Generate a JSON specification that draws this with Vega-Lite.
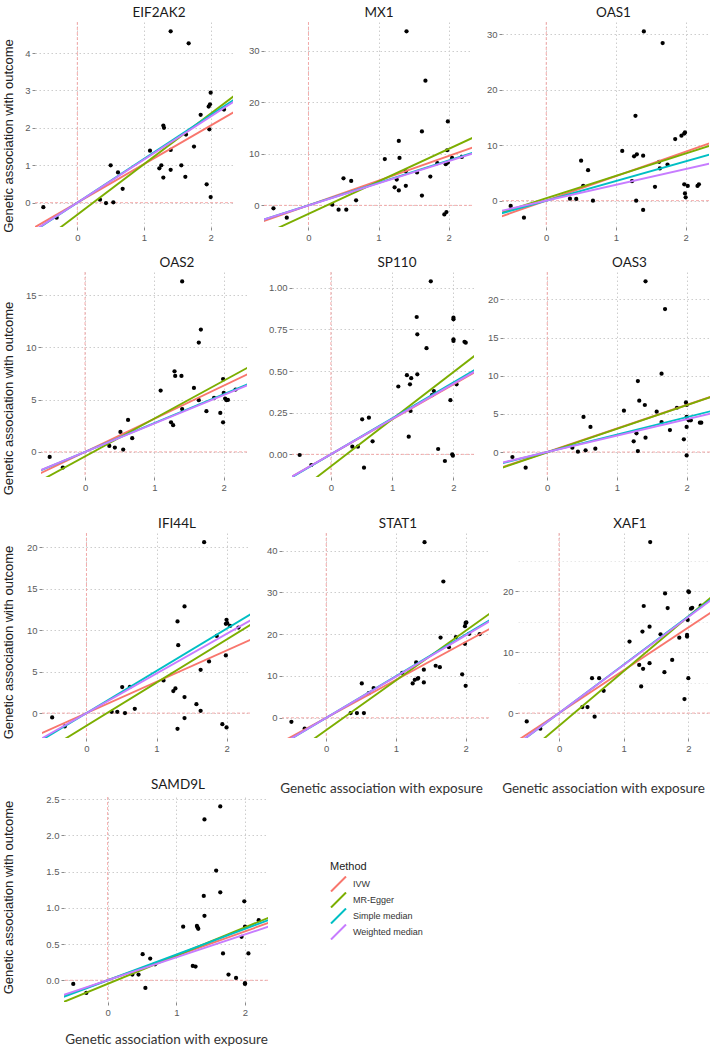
{
"$schema":"https://vega.github.io/schema/vega-lite/v6.json",
"padding":{"left":0,"top":5,"right":0,"bottom":0},
"background":"white",
"datasets":{
"pts":[
{"g":"EIF2AK2","x":-0.51,"y":-0.12},{"g":"EIF2AK2","x":-0.31,"y":-0.40},{"g":"EIF2AK2","x":0.34,"y":0.08},{"g":"EIF2AK2","x":0.43,"y":-0.01},{"g":"EIF2AK2","x":0.50,"y":1.0},{"g":"EIF2AK2","x":0.54,"y":0.01},{"g":"EIF2AK2","x":0.61,"y":0.81},{"g":"EIF2AK2","x":0.68,"y":0.37},{"g":"EIF2AK2","x":1.09,"y":1.39},{"g":"EIF2AK2","x":1.23,"y":0.92},{"g":"EIF2AK2","x":1.26,"y":1.0},{"g":"EIF2AK2","x":1.29,"y":0.67},{"g":"EIF2AK2","x":1.29,"y":2.06},{"g":"EIF2AK2","x":1.30,"y":2.0},{"g":"EIF2AK2","x":1.40,"y":1.41},{"g":"EIF2AK2","x":1.40,"y":0.88},{"g":"EIF2AK2","x":1.40,"y":4.58},{"g":"EIF2AK2","x":1.56,"y":1.0},{"g":"EIF2AK2","x":1.62,"y":0.69},{"g":"EIF2AK2","x":1.63,"y":1.82},{"g":"EIF2AK2","x":1.67,"y":4.26},{"g":"EIF2AK2","x":1.75,"y":1.50},{"g":"EIF2AK2","x":1.85,"y":2.35},{"g":"EIF2AK2","x":1.94,"y":0.49},{"g":"EIF2AK2","x":1.98,"y":1.96},{"g":"EIF2AK2","x":1.97,"y":2.57},{"g":"EIF2AK2","x":1.99,"y":2.63},{"g":"EIF2AK2","x":2.0,"y":2.94},{"g":"EIF2AK2","x":2.0,"y":0.15},{"g":"EIF2AK2","x":2.2,"y":2.49},
{"g":"MX1","x":-0.50,"y":-0.58},{"g":"MX1","x":-0.31,"y":-2.4},{"g":"MX1","x":0.34,"y":0.13},{"g":"MX1","x":0.43,"y":-0.84},{"g":"MX1","x":0.50,"y":5.26},{"g":"MX1","x":0.54,"y":-0.84},{"g":"MX1","x":0.61,"y":4.74},{"g":"MX1","x":0.68,"y":0.97},{"g":"MX1","x":1.09,"y":9.0},{"g":"MX1","x":1.23,"y":3.5},{"g":"MX1","x":1.26,"y":5.0},{"g":"MX1","x":1.29,"y":2.9},{"g":"MX1","x":1.29,"y":12.5},{"g":"MX1","x":1.30,"y":9.2},{"g":"MX1","x":1.39,"y":3.8},{"g":"MX1","x":1.39,"y":6.6},{"g":"MX1","x":1.40,"y":33.8},{"g":"MX1","x":1.55,"y":6.4},{"g":"MX1","x":1.62,"y":1.9},{"g":"MX1","x":1.62,"y":14.35},{"g":"MX1","x":1.67,"y":24.2},{"g":"MX1","x":1.74,"y":5.6},{"g":"MX1","x":1.84,"y":8.2},{"g":"MX1","x":1.94,"y":-1.75},{"g":"MX1","x":1.97,"y":-1.3},{"g":"MX1","x":1.96,"y":8.0},{"g":"MX1","x":1.98,"y":10.7},{"g":"MX1","x":1.99,"y":16.3},{"g":"MX1","x":2.05,"y":9.2},{"g":"MX1","x":2.19,"y":9.4},{"g":"MX1","x":1.99,"y":8.3},
{"g":"OAS1","x":-0.51,"y":-0.96},{"g":"OAS1","x":-0.32,"y":-3.07},{"g":"OAS1","x":0.34,"y":0.36},{"g":"OAS1","x":0.43,"y":0.30},{"g":"OAS1","x":0.50,"y":7.2},{"g":"OAS1","x":0.53,"y":2.65},{"g":"OAS1","x":0.60,"y":5.5},{"g":"OAS1","x":0.67,"y":0.0},{"g":"OAS1","x":1.09,"y":8.96},{"g":"OAS1","x":1.23,"y":3.5},{"g":"OAS1","x":1.26,"y":8.0},{"g":"OAS1","x":1.28,"y":15.3},{"g":"OAS1","x":1.29,"y":0.0},{"g":"OAS1","x":1.30,"y":8.36},{"g":"OAS1","x":1.39,"y":8.1},{"g":"OAS1","x":1.39,"y":-1.68},{"g":"OAS1","x":1.40,"y":30.5},{"g":"OAS1","x":1.56,"y":2.5},{"g":"OAS1","x":1.62,"y":7.0},{"g":"OAS1","x":1.63,"y":5.8},{"g":"OAS1","x":1.67,"y":28.4},{"g":"OAS1","x":1.74,"y":6.5},{"g":"OAS1","x":1.85,"y":11.1},{"g":"OAS1","x":1.94,"y":11.7},{"g":"OAS1","x":1.98,"y":12.1},{"g":"OAS1","x":1.99,"y":12.3},{"g":"OAS1","x":1.98,"y":2.95},{"g":"OAS1","x":1.99,"y":1.3},{"g":"OAS1","x":2.0,"y":0.6},{"g":"OAS1","x":2.03,"y":2.65},{"g":"OAS1","x":2.17,"y":2.65},{"g":"OAS1","x":2.19,"y":2.95},
{"g":"OAS2","x":-0.51,"y":-0.48},{"g":"OAS2","x":-0.32,"y":-1.5},{"g":"OAS2","x":0.35,"y":0.57},{"g":"OAS2","x":0.43,"y":0.41},{"g":"OAS2","x":0.51,"y":1.91},{"g":"OAS2","x":0.55,"y":0.22},{"g":"OAS2","x":0.62,"y":3.06},{"g":"OAS2","x":0.68,"y":1.31},{"g":"OAS2","x":1.09,"y":5.86},{"g":"OAS2","x":1.24,"y":2.83},{"g":"OAS2","x":1.27,"y":2.55},{"g":"OAS2","x":1.29,"y":7.71},{"g":"OAS2","x":1.30,"y":7.26},{"g":"OAS2","x":1.39,"y":7.26},{"g":"OAS2","x":1.40,"y":4.1},{"g":"OAS2","x":1.40,"y":16.3},{"g":"OAS2","x":1.57,"y":6.11},{"g":"OAS2","x":1.64,"y":4.94},{"g":"OAS2","x":1.64,"y":10.45},{"g":"OAS2","x":1.67,"y":11.7},{"g":"OAS2","x":1.75,"y":3.89},{"g":"OAS2","x":1.86,"y":5.16},{"g":"OAS2","x":1.95,"y":3.73},{"g":"OAS2","x":1.99,"y":2.83},{"g":"OAS2","x":1.99,"y":6.97},{"g":"OAS2","x":2.0,"y":5.64},{"g":"OAS2","x":2.02,"y":5.1},{"g":"OAS2","x":2.04,"y":4.94},{"g":"OAS2","x":2.06,"y":4.97},{"g":"OAS2","x":2.17,"y":5.96},
{"g":"SP110","x":-0.51,"y":-0.004},{"g":"SP110","x":-0.32,"y":-0.064},{"g":"SP110","x":0.35,"y":0.046},{"g":"SP110","x":0.44,"y":0.046},{"g":"SP110","x":0.51,"y":0.21},{"g":"SP110","x":0.54,"y":-0.08},{"g":"SP110","x":0.62,"y":0.22},{"g":"SP110","x":0.68,"y":0.078},{"g":"SP110","x":1.10,"y":0.407},{"g":"SP110","x":1.24,"y":0.475},{"g":"SP110","x":1.27,"y":0.106},{"g":"SP110","x":1.29,"y":0.42},{"g":"SP110","x":1.30,"y":0.26},{"g":"SP110","x":1.31,"y":0.457},{"g":"SP110","x":1.40,"y":0.824},{"g":"SP110","x":1.41,"y":0.48},{"g":"SP110","x":1.41,"y":0.72},{"g":"SP110","x":1.56,"y":0.637},{"g":"SP110","x":1.63,"y":1.038},{"g":"SP110","x":1.65,"y":0.355},{"g":"SP110","x":1.68,"y":0.38},{"g":"SP110","x":1.75,"y":0.032},{"g":"SP110","x":1.86,"y":-0.04},{"g":"SP110","x":1.95,"y":0.325},{"g":"SP110","x":1.98,"y":0.0},{"g":"SP110","x":1.99,"y":-0.008},{"g":"SP110","x":2.0,"y":0.81},{"g":"SP110","x":2.0,"y":0.82},{"g":"SP110","x":2.0,"y":0.69},{"g":"SP110","x":2.0,"y":0.68},{"g":"SP110","x":2.05,"y":0.42},{"g":"SP110","x":2.18,"y":0.675},{"g":"SP110","x":2.2,"y":0.67},
{"g":"OAS3","x":-0.50,"y":-0.65},{"g":"OAS3","x":-0.31,"y":-2.05},{"g":"OAS3","x":0.36,"y":0.57},{"g":"OAS3","x":0.44,"y":0.04},{"g":"OAS3","x":0.52,"y":4.59},{"g":"OAS3","x":0.55,"y":0.22},{"g":"OAS3","x":0.62,"y":3.28},{"g":"OAS3","x":0.69,"y":0.44},{"g":"OAS3","x":1.10,"y":5.41},{"g":"OAS3","x":1.24,"y":1.40},{"g":"OAS3","x":1.28,"y":2.45},{"g":"OAS3","x":1.30,"y":0.13},{"g":"OAS3","x":1.30,"y":9.3},{"g":"OAS3","x":1.32,"y":6.72},{"g":"OAS3","x":1.40,"y":6.16},{"g":"OAS3","x":1.41,"y":1.88},{"g":"OAS3","x":1.41,"y":22.36},{"g":"OAS3","x":1.57,"y":5.28},{"g":"OAS3","x":1.64,"y":3.93},{"g":"OAS3","x":1.64,"y":10.26},{"g":"OAS3","x":1.69,"y":18.73},{"g":"OAS3","x":1.76,"y":2.88},{"g":"OAS3","x":1.86,"y":5.8},{"g":"OAS3","x":1.96,"y":1.66},{"g":"OAS3","x":1.99,"y":6.5},{"g":"OAS3","x":2.0,"y":6.16},{"g":"OAS3","x":2.0,"y":4.6},{"g":"OAS3","x":2.0,"y":3.28},{"g":"OAS3","x":2.0,"y":-0.44},{"g":"OAS3","x":2.03,"y":4.15},{"g":"OAS3","x":2.06,"y":4.15},{"g":"OAS3","x":2.19,"y":3.84},{"g":"OAS3","x":2.21,"y":3.84},
{"g":"IFI44L","x":-0.49,"y":-0.52},{"g":"IFI44L","x":-0.31,"y":-1.6},{"g":"IFI44L","x":0.36,"y":0.16},{"g":"IFI44L","x":0.44,"y":0.16},{"g":"IFI44L","x":0.51,"y":3.13},{"g":"IFI44L","x":0.55,"y":0.0},{"g":"IFI44L","x":0.62,"y":3.17},{"g":"IFI44L","x":0.69,"y":0.52},{"g":"IFI44L","x":1.10,"y":3.94},{"g":"IFI44L","x":1.24,"y":2.65},{"g":"IFI44L","x":1.27,"y":2.97},{"g":"IFI44L","x":1.30,"y":11.04},{"g":"IFI44L","x":1.30,"y":-1.89},{"g":"IFI44L","x":1.31,"y":8.19},{"g":"IFI44L","x":1.40,"y":1.93},{"g":"IFI44L","x":1.40,"y":12.85},{"g":"IFI44L","x":1.40,"y":-0.6},{"g":"IFI44L","x":1.57,"y":1.08},{"g":"IFI44L","x":1.63,"y":5.22},{"g":"IFI44L","x":1.63,"y":0.28},{"g":"IFI44L","x":1.68,"y":20.6},{"g":"IFI44L","x":1.75,"y":6.22},{"g":"IFI44L","x":1.86,"y":9.3},{"g":"IFI44L","x":1.94,"y":-1.33},{"g":"IFI44L","x":1.99,"y":6.95},{"g":"IFI44L","x":2.0,"y":-1.73},{"g":"IFI44L","x":1.99,"y":10.76},{"g":"IFI44L","x":2.0,"y":11.24},{"g":"IFI44L","x":2.01,"y":10.84},{"g":"IFI44L","x":2.05,"y":10.5},{"g":"IFI44L","x":2.17,"y":10.3},
{"g":"STAT1","x":-0.50,"y":-0.96},{"g":"STAT1","x":-0.31,"y":-2.6},{"g":"STAT1","x":0.35,"y":1.12},{"g":"STAT1","x":0.44,"y":1.12},{"g":"STAT1","x":0.51,"y":8.22},{"g":"STAT1","x":0.54,"y":1.12},{"g":"STAT1","x":0.61,"y":5.9},{"g":"STAT1","x":0.68,"y":7.1},{"g":"STAT1","x":1.09,"y":10.77},{"g":"STAT1","x":1.24,"y":8.22},{"g":"STAT1","x":1.27,"y":9.1},{"g":"STAT1","x":1.29,"y":13.25},{"g":"STAT1","x":1.31,"y":9.34},{"g":"STAT1","x":1.32,"y":9.5},{"g":"STAT1","x":1.40,"y":11.5},{"g":"STAT1","x":1.40,"y":8.46},{"g":"STAT1","x":1.41,"y":42.0},{"g":"STAT1","x":1.57,"y":12.45},{"g":"STAT1","x":1.63,"y":12.1},{"g":"STAT1","x":1.64,"y":19.2},{"g":"STAT1","x":1.68,"y":32.6},{"g":"STAT1","x":1.76,"y":16.9},{"g":"STAT1","x":1.86,"y":19.3},{"g":"STAT1","x":1.95,"y":10.4},{"g":"STAT1","x":1.99,"y":17.7},{"g":"STAT1","x":1.99,"y":21.9},{"g":"STAT1","x":2.0,"y":22.7},{"g":"STAT1","x":2.0,"y":7.66},{"g":"STAT1","x":2.01,"y":22.8},{"g":"STAT1","x":2.05,"y":20.1},{"g":"STAT1","x":2.2,"y":20.0},
{"g":"XAF1","x":-0.50,"y":-1.37},{"g":"XAF1","x":-0.29,"y":-2.57},{"g":"XAF1","x":0.36,"y":0.98},{"g":"XAF1","x":0.44,"y":0.98},{"g":"XAF1","x":0.51,"y":5.74},{"g":"XAF1","x":0.55,"y":-0.6},{"g":"XAF1","x":0.62,"y":5.74},{"g":"XAF1","x":0.69,"y":3.66},{"g":"XAF1","x":1.09,"y":11.75},{"g":"XAF1","x":1.24,"y":7.92},{"g":"XAF1","x":1.27,"y":4.37},{"g":"XAF1","x":1.29,"y":13.39},{"g":"XAF1","x":1.30,"y":7.27},{"g":"XAF1","x":1.31,"y":17.6},{"g":"XAF1","x":1.40,"y":8.2},{"g":"XAF1","x":1.40,"y":14.2},{"g":"XAF1","x":1.41,"y":28.1},{"g":"XAF1","x":1.57,"y":12.95},{"g":"XAF1","x":1.63,"y":6.72},{"g":"XAF1","x":1.64,"y":19.67},{"g":"XAF1","x":1.68,"y":17.27},{"g":"XAF1","x":1.75,"y":8.74},{"g":"XAF1","x":1.86,"y":12.4},{"g":"XAF1","x":1.94,"y":2.3},{"g":"XAF1","x":1.98,"y":12.84},{"g":"XAF1","x":1.98,"y":12.57},{"g":"XAF1","x":1.99,"y":15.3},{"g":"XAF1","x":2.0,"y":5.74},{"g":"XAF1","x":2.0,"y":20.0},{"g":"XAF1","x":2.01,"y":19.9},{"g":"XAF1","x":2.04,"y":17.16},{"g":"XAF1","x":2.06,"y":17.3},{"g":"XAF1","x":2.19,"y":17.65},
{"g":"SAMD9L","x":-0.50,"y":-0.05},{"g":"SAMD9L","x":-0.31,"y":-0.175},{"g":"SAMD9L","x":0.36,"y":0.078},{"g":"SAMD9L","x":0.45,"y":0.078},{"g":"SAMD9L","x":0.51,"y":0.36},{"g":"SAMD9L","x":0.55,"y":-0.106},{"g":"SAMD9L","x":0.62,"y":0.30},{"g":"SAMD9L","x":0.69,"y":0.22},{"g":"SAMD9L","x":1.10,"y":0.74},{"g":"SAMD9L","x":1.24,"y":0.198},{"g":"SAMD9L","x":1.28,"y":0.19},{"g":"SAMD9L","x":1.30,"y":0.75},{"g":"SAMD9L","x":1.31,"y":0.73},{"g":"SAMD9L","x":1.32,"y":0.71},{"g":"SAMD9L","x":1.40,"y":1.165},{"g":"SAMD9L","x":1.41,"y":0.89},{"g":"SAMD9L","x":1.41,"y":2.22},{"g":"SAMD9L","x":1.58,"y":1.515},{"g":"SAMD9L","x":1.64,"y":1.215},{"g":"SAMD9L","x":1.64,"y":2.40},{"g":"SAMD9L","x":1.68,"y":0.37},{"g":"SAMD9L","x":1.76,"y":0.078},{"g":"SAMD9L","x":1.87,"y":0.032},{"g":"SAMD9L","x":1.95,"y":0.60},{"g":"SAMD9L","x":1.99,"y":1.09},{"g":"SAMD9L","x":2.0,"y":0.74},{"g":"SAMD9L","x":2.0,"y":-0.05},{"g":"SAMD9L","x":2.0,"y":-0.04},{"g":"SAMD9L","x":2.05,"y":0.37},{"g":"SAMD9L","x":2.2,"y":0.83}
],
"lines":[
{"g":"EIF2AK2","m":"IVW","x":-0.7,"y":-0.721},{"g":"EIF2AK2","m":"IVW","x":2.4,"y":2.472},{"g":"EIF2AK2","m":"MR-Egger","x":-0.7,"y":-1.265},{"g":"EIF2AK2","m":"MR-Egger","x":2.4,"y":2.92},{"g":"EIF2AK2","m":"Simple median","x":-0.7,"y":-0.819},{"g":"EIF2AK2","m":"Simple median","x":2.4,"y":2.808},{"g":"EIF2AK2","m":"Weighted median","x":-0.7,"y":-0.805},{"g":"EIF2AK2","m":"Weighted median","x":2.4,"y":2.76},
{"g":"MX1","m":"IVW","x":-0.7,"y":-3.36},{"g":"MX1","m":"IVW","x":2.4,"y":11.52},{"g":"MX1","m":"MR-Egger","x":-0.7,"y":-6.06},{"g":"MX1","m":"MR-Egger","x":2.4,"y":13.47},{"g":"MX1","m":"Simple median","x":-0.7,"y":-3.045},{"g":"MX1","m":"Simple median","x":2.4,"y":10.44},{"g":"MX1","m":"Weighted median","x":-0.7,"y":-3.01},{"g":"MX1","m":"Weighted median","x":2.4,"y":10.32},
{"g":"OAS1","m":"IVW","x":-0.7,"y":-3.087},{"g":"OAS1","m":"IVW","x":2.4,"y":10.584},{"g":"OAS1","m":"MR-Egger","x":-0.7,"y":-2.381},{"g":"OAS1","m":"MR-Egger","x":2.4,"y":10.112},{"g":"OAS1","m":"Simple median","x":-0.7,"y":-2.485},{"g":"OAS1","m":"Simple median","x":2.4,"y":8.52},{"g":"OAS1","m":"Weighted median","x":-0.7,"y":-1.995},{"g":"OAS1","m":"Weighted median","x":2.4,"y":6.84},
{"g":"OAS2","m":"IVW","x":-0.7,"y":-2.219},{"g":"OAS2","m":"IVW","x":2.4,"y":7.608},{"g":"OAS2","m":"MR-Egger","x":-0.7,"y":-2.964},{"g":"OAS2","m":"MR-Egger","x":2.4,"y":8.258},{"g":"OAS2","m":"Simple median","x":-0.7,"y":-1.932},{"g":"OAS2","m":"Simple median","x":2.4,"y":6.624},{"g":"OAS2","m":"Weighted median","x":-0.7,"y":-1.904},{"g":"OAS2","m":"Weighted median","x":2.4,"y":6.528},
{"g":"SP110","m":"IVW","x":-0.7,"y":-0.147},{"g":"SP110","m":"IVW","x":2.4,"y":0.504},{"g":"SP110","m":"MR-Egger","x":-0.7,"y":-0.270},{"g":"SP110","m":"MR-Egger","x":2.4,"y":0.607},{"g":"SP110","m":"Simple median","x":-0.7,"y":-0.151},{"g":"SP110","m":"Simple median","x":2.4,"y":0.518},{"g":"SP110","m":"Weighted median","x":-0.7,"y":-0.148},{"g":"SP110","m":"Weighted median","x":2.4,"y":0.509},
{"g":"OAS3","m":"IVW","x":-0.7,"y":-2.156},{"g":"OAS3","m":"IVW","x":2.4,"y":7.392},{"g":"OAS3","m":"MR-Egger","x":-0.7,"y":-2.22},{"g":"OAS3","m":"MR-Egger","x":2.4,"y":7.39},{"g":"OAS3","m":"Simple median","x":-0.7,"y":-1.596},{"g":"OAS3","m":"Simple median","x":2.4,"y":5.472},{"g":"OAS3","m":"Weighted median","x":-0.7,"y":-1.505},{"g":"OAS3","m":"Weighted median","x":2.4,"y":5.16},
{"g":"IFI44L","m":"IVW","x":-0.7,"y":-2.639},{"g":"IFI44L","m":"IVW","x":2.4,"y":9.048},{"g":"IFI44L","m":"MR-Egger","x":-0.7,"y":-5.153},{"g":"IFI44L","m":"MR-Egger","x":2.4,"y":10.936},{"g":"IFI44L","m":"Simple median","x":-0.7,"y":-3.556},{"g":"IFI44L","m":"Simple median","x":2.4,"y":12.192},{"g":"IFI44L","m":"Weighted median","x":-0.7,"y":-3.339},{"g":"IFI44L","m":"Weighted median","x":2.4,"y":11.448},
{"g":"STAT1","m":"IVW","x":-0.7,"y":-6.349},{"g":"STAT1","m":"IVW","x":2.4,"y":21.768},{"g":"STAT1","m":"MR-Egger","x":-0.7,"y":-11.246},{"g":"STAT1","m":"MR-Egger","x":2.4,"y":25.582},{"g":"STAT1","m":"Simple median","x":-0.7,"y":-6.965},{"g":"STAT1","m":"Simple median","x":2.4,"y":23.88},{"g":"STAT1","m":"Weighted median","x":-0.7,"y":-6.895},{"g":"STAT1","m":"Weighted median","x":2.4,"y":23.64},
{"g":"XAF1","m":"IVW","x":-0.7,"y":-4.928},{"g":"XAF1","m":"IVW","x":2.4,"y":16.896},{"g":"XAF1","m":"MR-Egger","x":-0.7,"y":-8.386},{"g":"XAF1","m":"MR-Egger","x":2.4,"y":19.452},{"g":"XAF1","m":"Simple median","x":-0.7,"y":-5.565},{"g":"XAF1","m":"Simple median","x":2.4,"y":19.08},{"g":"XAF1","m":"Weighted median","x":-0.7,"y":-5.53},{"g":"XAF1","m":"Weighted median","x":2.4,"y":18.96},
{"g":"SAMD9L","m":"IVW","x":-0.7,"y":-0.237},{"g":"SAMD9L","m":"IVW","x":2.4,"y":0.811},{"g":"SAMD9L","m":"MR-Egger","x":-0.7,"y":-0.323},{"g":"SAMD9L","m":"MR-Egger","x":2.4,"y":0.886},{"g":"SAMD9L","m":"Simple median","x":-0.7,"y":-0.249},{"g":"SAMD9L","m":"Simple median","x":2.4,"y":0.852},{"g":"SAMD9L","m":"Weighted median","x":-0.7,"y":-0.221},{"g":"SAMD9L","m":"Weighted median","x":2.4,"y":0.758}
]
},
"concat":[
{"concat":[
 {"concat":[
  {"width":1,"height":1,"data":{"values":[]},"mark":"point"},
  {"width":198,"height":205,"title":{"text":"EIF2AK2","anchor":"middle","frame":"group","dx":25,"offset":2.5},
   "layer":[
    {"data":{"values":[{}]},"mark":{"type":"rule","color":"#F4A3A3","strokeDash":[3,2],"strokeWidth":0.9},"encoding":{"x":{"datum":0,"type":"quantitative"}}},
    {"data":{"values":[{}]},"mark":{"type":"rule","color":"#F4A3A3","strokeDash":[3,2],"strokeWidth":0.9},"encoding":{"y":{"datum":0,"type":"quantitative"}}},
    {"data":{"name":"pts"},"transform":[{"filter":"datum.g==='EIF2AK2'"}],"mark":{"type":"circle","size":18,"color":"#000","opacity":1},
     "encoding":{"x":{"field":"x","type":"quantitative","title":null,"scale":{"domain":[-0.635,2.335],"nice":false,"zero":false},"axis":{"values":[0,0.5,1,1.5,2],"format":"d","labelOverlap":false,"labelFlush":false,"labelOpacity":{"condition":{"test":"datum.value % 1 !== 0","value":0},"value":1},"tickOpacity":{"condition":{"test":"datum.value % 1 !== 0","value":0},"value":1},"gridOpacity":{"condition":{"test":"datum.value % 1 !== 0","value":0.45},"value":1},"minExtent":15,"maxExtent":15}},
                 "y":{"field":"y","type":"quantitative","title":"Genetic association with outcome","scale":{"domain":[-0.65,4.83],"nice":false,"zero":false},"axis":{"values":[0,0.5,1,1.5,2,2.5,3,3.5,4,4.5],"format":"d","labelOverlap":false,"labelOpacity":{"condition":{"test":"datum.value % 1 !== 0","value":0},"value":1},"tickOpacity":{"condition":{"test":"datum.value % 1 !== 0","value":0},"value":1},"gridOpacity":{"condition":{"test":"datum.value % 1 !== 0","value":0.45},"value":1},"titleY":113.5,"minExtent":17,"maxExtent":17}}}},
    {"data":{"name":"lines"},"transform":[{"filter":"datum.g==='EIF2AK2'"}],"mark":{"type":"line","clip":true,"strokeWidth":1.9},
     "encoding":{"x":{"field":"x","type":"quantitative","title":null},"y":{"field":"y","type":"quantitative","title":"Genetic association with outcome"},"color":{"field":"m","type":"nominal","title":"Method","scale":{"domain":["IVW","MR-Egger","Simple median","Weighted median"],"range":["#F8766D","#7CAE00","#00BFC4","#C77CFF"]}}}}
   ]},
  {"width":208,"height":205,"title":{"text":"MX1","anchor":"middle","frame":"group","dx":11,"offset":2.5},
   "layer":[
    {"data":{"values":[{}]},"mark":{"type":"rule","color":"#F4A3A3","strokeDash":[3,2],"strokeWidth":0.9},"encoding":{"x":{"datum":0,"type":"quantitative"}}},
    {"data":{"values":[{}]},"mark":{"type":"rule","color":"#F4A3A3","strokeDash":[3,2],"strokeWidth":0.9},"encoding":{"y":{"datum":0,"type":"quantitative"}}},
    {"data":{"name":"pts"},"transform":[{"filter":"datum.g==='MX1'"}],"mark":{"type":"circle","size":18,"color":"#000","opacity":1},
     "encoding":{"x":{"field":"x","type":"quantitative","title":null,"scale":{"domain":[-0.635,2.335],"nice":false,"zero":false},"axis":{"values":[0,0.5,1,1.5,2],"format":"d","labelOverlap":false,"labelFlush":false,"labelOpacity":{"condition":{"test":"datum.value % 1 !== 0","value":0},"value":1},"tickOpacity":{"condition":{"test":"datum.value % 1 !== 0","value":0},"value":1},"gridOpacity":{"condition":{"test":"datum.value % 1 !== 0","value":0.45},"value":1},"minExtent":15,"maxExtent":15}},
                 "y":{"field":"y","type":"quantitative","title":null,"scale":{"domain":[-4.2,35.6],"nice":false,"zero":false},"axis":{"values":[0,5,10,15,20,25,30,35],"format":"d","labelOverlap":false,"labelOpacity":{"condition":{"test":"datum.value % 10 !== 0","value":0},"value":1},"tickOpacity":{"condition":{"test":"datum.value % 10 !== 0","value":0},"value":1},"gridOpacity":{"condition":{"test":"datum.value % 10 !== 0","value":0.45},"value":1},"minExtent":28.6,"maxExtent":28.6}}}},
    {"data":{"name":"lines"},"transform":[{"filter":"datum.g==='MX1'"}],"mark":{"type":"line","clip":true,"strokeWidth":1.9},
     "encoding":{"x":{"field":"x","type":"quantitative","title":null},"y":{"field":"y","type":"quantitative","title":null},"color":{"field":"m","type":"nominal","title":"Method","scale":{"domain":["IVW","MR-Egger","Simple median","Weighted median"],"range":["#F8766D","#7CAE00","#00BFC4","#C77CFF"]}}}}
   ]},
  {"width":207,"height":205,"title":{"text":"OAS1","anchor":"middle","frame":"group","dx":8,"offset":2.5},
   "layer":[
    {"data":{"values":[{}]},"mark":{"type":"rule","color":"#F4A3A3","strokeDash":[3,2],"strokeWidth":0.9},"encoding":{"x":{"datum":0,"type":"quantitative"}}},
    {"data":{"values":[{}]},"mark":{"type":"rule","color":"#F4A3A3","strokeDash":[3,2],"strokeWidth":0.9},"encoding":{"y":{"datum":0,"type":"quantitative"}}},
    {"data":{"name":"pts"},"transform":[{"filter":"datum.g==='OAS1'"}],"mark":{"type":"circle","size":18,"color":"#000","opacity":1},
     "encoding":{"x":{"field":"x","type":"quantitative","title":null,"scale":{"domain":[-0.635,2.335],"nice":false,"zero":false},"axis":{"values":[0,0.5,1,1.5,2],"format":"d","labelOverlap":false,"labelFlush":false,"labelOpacity":{"condition":{"test":"datum.value % 1 !== 0","value":0},"value":1},"tickOpacity":{"condition":{"test":"datum.value % 1 !== 0","value":0},"value":1},"gridOpacity":{"condition":{"test":"datum.value % 1 !== 0","value":0.45},"value":1},"minExtent":15,"maxExtent":15}},
                 "y":{"field":"y","type":"quantitative","title":null,"scale":{"domain":[-4.75,32.2],"nice":false,"zero":false},"axis":{"values":[0,5,10,15,20,25,30],"format":"d","labelOverlap":false,"labelOpacity":{"condition":{"test":"datum.value % 10 !== 0","value":0},"value":1},"tickOpacity":{"condition":{"test":"datum.value % 10 !== 0","value":0},"value":1},"gridOpacity":{"condition":{"test":"datum.value % 10 !== 0","value":0.45},"value":1},"minExtent":27.2,"maxExtent":27.2}}}},
    {"data":{"name":"lines"},"transform":[{"filter":"datum.g==='OAS1'"}],"mark":{"type":"line","clip":true,"strokeWidth":1.9},
     "encoding":{"x":{"field":"x","type":"quantitative","title":null},"y":{"field":"y","type":"quantitative","title":null},"color":{"field":"m","type":"nominal","title":"Method","scale":{"domain":["IVW","MR-Egger","Simple median","Weighted median"],"range":["#F8766D","#7CAE00","#00BFC4","#C77CFF"]}}}}
   ]}
 ],"align":"none","spacing":1},
 {"concat":[
  {"width":1,"height":1,"data":{"values":[]},"mark":"point"},
  {"width":206,"height":205,"title":{"text":"OAS2","anchor":"middle","frame":"group","dx":33,"offset":2.5},
   "layer":[
    {"data":{"values":[{}]},"mark":{"type":"rule","color":"#F4A3A3","strokeDash":[3,2],"strokeWidth":0.9},"encoding":{"x":{"datum":0,"type":"quantitative"}}},
    {"data":{"values":[{}]},"mark":{"type":"rule","color":"#F4A3A3","strokeDash":[3,2],"strokeWidth":0.9},"encoding":{"y":{"datum":0,"type":"quantitative"}}},
    {"data":{"name":"pts"},"transform":[{"filter":"datum.g==='OAS2'"}],"mark":{"type":"circle","size":18,"color":"#000","opacity":1},
     "encoding":{"x":{"field":"x","type":"quantitative","title":null,"scale":{"domain":[-0.635,2.335],"nice":false,"zero":false},"axis":{"values":[0,0.5,1,1.5,2],"format":"d","labelOverlap":false,"labelFlush":false,"labelOpacity":{"condition":{"test":"datum.value % 1 !== 0","value":0},"value":1},"tickOpacity":{"condition":{"test":"datum.value % 1 !== 0","value":0},"value":1},"gridOpacity":{"condition":{"test":"datum.value % 1 !== 0","value":0.45},"value":1},"minExtent":26,"maxExtent":26}},
                 "y":{"field":"y","type":"quantitative","title":"Genetic association with outcome","scale":{"domain":[-2.4,17.2],"nice":false,"zero":false},"axis":{"values":[0,2.5,5,7.5,10,12.5,15],"format":"d","labelOverlap":false,"labelOpacity":{"condition":{"test":"datum.value % 5 !== 0","value":0},"value":1},"tickOpacity":{"condition":{"test":"datum.value % 5 !== 0","value":0},"value":1},"gridOpacity":{"condition":{"test":"datum.value % 5 !== 0","value":0.45},"value":1},"titleY":126,"minExtent":23,"maxExtent":23}}}},
    {"data":{"name":"lines"},"transform":[{"filter":"datum.g==='OAS2'"}],"mark":{"type":"line","clip":true,"strokeWidth":1.9},
     "encoding":{"x":{"field":"x","type":"quantitative","title":null},"y":{"field":"y","type":"quantitative","title":"Genetic association with outcome"},"color":{"field":"m","type":"nominal","title":"Method","scale":{"domain":["IVW","MR-Egger","Simple median","Weighted median"],"range":["#F8766D","#7CAE00","#00BFC4","#C77CFF"]}}}}
   ]},
  {"width":182,"height":205,"title":{"text":"SP110","anchor":"middle","frame":"group","dx":14,"offset":2.5},
   "layer":[
    {"data":{"values":[{}]},"mark":{"type":"rule","color":"#F4A3A3","strokeDash":[3,2],"strokeWidth":0.9},"encoding":{"x":{"datum":0,"type":"quantitative"}}},
    {"data":{"values":[{}]},"mark":{"type":"rule","color":"#F4A3A3","strokeDash":[3,2],"strokeWidth":0.9},"encoding":{"y":{"datum":0,"type":"quantitative"}}},
    {"data":{"name":"pts"},"transform":[{"filter":"datum.g==='SP110'"}],"mark":{"type":"circle","size":18,"color":"#000","opacity":1},
     "encoding":{"x":{"field":"x","type":"quantitative","title":null,"scale":{"domain":[-0.635,2.335],"nice":false,"zero":false},"axis":{"values":[0,0.5,1,1.5,2],"format":"d","labelOverlap":false,"labelFlush":false,"labelOpacity":{"condition":{"test":"datum.value % 1 !== 0","value":0},"value":1},"tickOpacity":{"condition":{"test":"datum.value % 1 !== 0","value":0},"value":1},"gridOpacity":{"condition":{"test":"datum.value % 1 !== 0","value":0.45},"value":1},"minExtent":26,"maxExtent":26}},
                 "y":{"field":"y","type":"quantitative","title":null,"scale":{"domain":[-0.136,1.094],"nice":false,"zero":false},"axis":{"values":[0,0.125,0.25,0.375,0.5,0.625,0.75,0.875,1],"format":".2f","labelOverlap":false,"labelOpacity":{"condition":{"test":"datum.value % 0.25 !== 0","value":0},"value":1},"tickOpacity":{"condition":{"test":"datum.value % 0.25 !== 0","value":0},"value":1},"gridOpacity":{"condition":{"test":"datum.value % 0.25 !== 0","value":0.45},"value":1},"minExtent":42.8,"maxExtent":42.8}}}},
    {"data":{"name":"lines"},"transform":[{"filter":"datum.g==='SP110'"}],"mark":{"type":"line","clip":true,"strokeWidth":1.9},
     "encoding":{"x":{"field":"x","type":"quantitative","title":null},"y":{"field":"y","type":"quantitative","title":null},"color":{"field":"m","type":"nominal","title":"Method","scale":{"domain":["IVW","MR-Egger","Simple median","Weighted median"],"range":["#F8766D","#7CAE00","#00BFC4","#C77CFF"]}}}}
   ]},
  {"width":207,"height":205,"title":{"text":"OAS3","anchor":"middle","frame":"group","dx":23,"offset":2.5},
   "layer":[
    {"data":{"values":[{}]},"mark":{"type":"rule","color":"#F4A3A3","strokeDash":[3,2],"strokeWidth":0.9},"encoding":{"x":{"datum":0,"type":"quantitative"}}},
    {"data":{"values":[{}]},"mark":{"type":"rule","color":"#F4A3A3","strokeDash":[3,2],"strokeWidth":0.9},"encoding":{"y":{"datum":0,"type":"quantitative"}}},
    {"data":{"name":"pts"},"transform":[{"filter":"datum.g==='OAS3'"}],"mark":{"type":"circle","size":18,"color":"#000","opacity":1},
     "encoding":{"x":{"field":"x","type":"quantitative","title":null,"scale":{"domain":[-0.635,2.335],"nice":false,"zero":false},"axis":{"values":[0,0.5,1,1.5,2],"format":"d","labelOverlap":false,"labelFlush":false,"labelOpacity":{"condition":{"test":"datum.value % 1 !== 0","value":0},"value":1},"tickOpacity":{"condition":{"test":"datum.value % 1 !== 0","value":0},"value":1},"gridOpacity":{"condition":{"test":"datum.value % 1 !== 0","value":0.45},"value":1},"minExtent":26,"maxExtent":26}},
                 "y":{"field":"y","type":"quantitative","title":null,"scale":{"domain":[-3.27,23.58],"nice":false,"zero":false},"axis":{"values":[0,2.5,5,7.5,10,12.5,15,17.5,20,22.5],"format":"d","labelOverlap":false,"labelOpacity":{"condition":{"test":"datum.value % 5 !== 0","value":0},"value":1},"tickOpacity":{"condition":{"test":"datum.value % 5 !== 0","value":0},"value":1},"gridOpacity":{"condition":{"test":"datum.value % 5 !== 0","value":0.45},"value":1},"minExtent":26.6,"maxExtent":26.6}}}},
    {"data":{"name":"lines"},"transform":[{"filter":"datum.g==='OAS3'"}],"mark":{"type":"line","clip":true,"strokeWidth":1.9},
     "encoding":{"x":{"field":"x","type":"quantitative","title":null},"y":{"field":"y","type":"quantitative","title":null},"color":{"field":"m","type":"nominal","title":"Method","scale":{"domain":["IVW","MR-Egger","Simple median","Weighted median"],"range":["#F8766D","#7CAE00","#00BFC4","#C77CFF"]}}}}
   ]}
 ],"align":"none","spacing":1},
 {"concat":[
  {"width":1,"height":1,"data":{"values":[]},"mark":"point"},
  {"width":208,"height":205,"title":{"text":"IFI44L","anchor":"middle","frame":"group","dx":31,"offset":2.5},
   "layer":[
    {"data":{"values":[{}]},"mark":{"type":"rule","color":"#F4A3A3","strokeDash":[3,2],"strokeWidth":0.9},"encoding":{"x":{"datum":0,"type":"quantitative"}}},
    {"data":{"values":[{}]},"mark":{"type":"rule","color":"#F4A3A3","strokeDash":[3,2],"strokeWidth":0.9},"encoding":{"y":{"datum":0,"type":"quantitative"}}},
    {"data":{"name":"pts"},"transform":[{"filter":"datum.g==='IFI44L'"}],"mark":{"type":"circle","size":18,"color":"#000","opacity":1},
     "encoding":{"x":{"field":"x","type":"quantitative","title":null,"scale":{"domain":[-0.635,2.335],"nice":false,"zero":false},"axis":{"values":[0,0.5,1,1.5,2],"format":"d","labelOverlap":false,"labelFlush":false,"labelOpacity":{"condition":{"test":"datum.value % 1 !== 0","value":0},"value":1},"tickOpacity":{"condition":{"test":"datum.value % 1 !== 0","value":0},"value":1},"gridOpacity":{"condition":{"test":"datum.value % 1 !== 0","value":0.45},"value":1},"minExtent":15,"maxExtent":15}},
                 "y":{"field":"y","type":"quantitative","title":"Genetic association with outcome","scale":{"domain":[-3.0,21.7],"nice":false,"zero":false},"axis":{"values":[0,2.5,5,7.5,10,12.5,15,17.5,20],"format":"d","labelOverlap":false,"labelOpacity":{"condition":{"test":"datum.value % 5 !== 0","value":0},"value":1},"tickOpacity":{"condition":{"test":"datum.value % 5 !== 0","value":0},"value":1},"gridOpacity":{"condition":{"test":"datum.value % 5 !== 0","value":0.45},"value":1},"titleY":109,"minExtent":24,"maxExtent":24}}}},
    {"data":{"name":"lines"},"transform":[{"filter":"datum.g==='IFI44L'"}],"mark":{"type":"line","clip":true,"strokeWidth":1.9},
     "encoding":{"x":{"field":"x","type":"quantitative","title":null},"y":{"field":"y","type":"quantitative","title":"Genetic association with outcome"},"color":{"field":"m","type":"nominal","title":"Method","scale":{"domain":["IVW","MR-Egger","Simple median","Weighted median"],"range":["#F8766D","#7CAE00","#00BFC4","#C77CFF"]}}}}
   ]},
  {"width":207,"height":205,"title":{"text":"STAT1","anchor":"middle","frame":"group","dx":12.5,"offset":2.5},
   "layer":[
    {"data":{"values":[{}]},"mark":{"type":"rule","color":"#F4A3A3","strokeDash":[3,2],"strokeWidth":0.9},"encoding":{"x":{"datum":0,"type":"quantitative"}}},
    {"data":{"values":[{}]},"mark":{"type":"rule","color":"#F4A3A3","strokeDash":[3,2],"strokeWidth":0.9},"encoding":{"y":{"datum":0,"type":"quantitative"}}},
    {"data":{"name":"pts"},"transform":[{"filter":"datum.g==='STAT1'"}],"mark":{"type":"circle","size":18,"color":"#000","opacity":1},
     "encoding":{"x":{"field":"x","type":"quantitative","title":"Genetic association with exposure","scale":{"domain":[-0.635,2.335],"nice":false,"zero":false},"axis":{"values":[0,0.5,1,1.5,2],"format":"d","labelOverlap":false,"labelFlush":false,"labelOpacity":{"condition":{"test":"datum.value % 1 !== 0","value":0},"value":1},"tickOpacity":{"condition":{"test":"datum.value % 1 !== 0","value":0},"value":1},"gridOpacity":{"condition":{"test":"datum.value % 1 !== 0","value":0.45},"value":1},"minExtent":15,"maxExtent":15,"titlePadding":28,"titleX":99}},
                 "y":{"field":"y","type":"quantitative","title":null,"scale":{"domain":[-4.83,44.2],"nice":false,"zero":false},"axis":{"values":[0,5,10,15,20,25,30,35,40],"format":"d","labelOverlap":false,"labelOpacity":{"condition":{"test":"datum.value % 10 !== 0","value":0},"value":1},"tickOpacity":{"condition":{"test":"datum.value % 10 !== 0","value":0},"value":1},"gridOpacity":{"condition":{"test":"datum.value % 10 !== 0","value":0.45},"value":1},"minExtent":29.4,"maxExtent":29.4}}}},
    {"data":{"name":"lines"},"transform":[{"filter":"datum.g==='STAT1'"}],"mark":{"type":"line","clip":true,"strokeWidth":1.9},
     "encoding":{"x":{"field":"x","type":"quantitative","title":"Genetic association with exposure"},"y":{"field":"y","type":"quantitative","title":null},"color":{"field":"m","type":"nominal","title":"Method","scale":{"domain":["IVW","MR-Egger","Simple median","Weighted median"],"range":["#F8766D","#7CAE00","#00BFC4","#C77CFF"]}}}}
   ]},
  {"width":192,"height":205,"title":{"text":"XAF1","anchor":"middle","frame":"group","dx":16,"offset":2.5},
   "layer":[
    {"data":{"values":[{}]},"mark":{"type":"rule","color":"#F4A3A3","strokeDash":[3,2],"strokeWidth":0.9},"encoding":{"x":{"datum":0,"type":"quantitative"}}},
    {"data":{"values":[{}]},"mark":{"type":"rule","color":"#F4A3A3","strokeDash":[3,2],"strokeWidth":0.9},"encoding":{"y":{"datum":0,"type":"quantitative"}}},
    {"data":{"name":"pts"},"transform":[{"filter":"datum.g==='XAF1'"}],"mark":{"type":"circle","size":18,"color":"#000","opacity":1},
     "encoding":{"x":{"field":"x","type":"quantitative","title":"Genetic association with exposure","scale":{"domain":[-0.635,2.335],"nice":false,"zero":false},"axis":{"values":[0,0.5,1,1.5,2],"format":"d","labelOverlap":false,"labelFlush":false,"labelOpacity":{"condition":{"test":"datum.value % 1 !== 0","value":0},"value":1},"tickOpacity":{"condition":{"test":"datum.value % 1 !== 0","value":0},"value":1},"gridOpacity":{"condition":{"test":"datum.value % 1 !== 0","value":0.45},"value":1},"minExtent":15,"maxExtent":15,"titlePadding":28,"titleX":85}},
                 "y":{"field":"y","type":"quantitative","title":null,"scale":{"domain":[-4.1,29.6],"nice":false,"zero":false},"axis":{"values":[0,5,10,15,20,25],"format":"d","labelOverlap":false,"labelOpacity":{"condition":{"test":"datum.value % 10 !== 0","value":0},"value":1},"tickOpacity":{"condition":{"test":"datum.value % 10 !== 0","value":0},"value":1},"gridOpacity":{"condition":{"test":"datum.value % 10 !== 0","value":0.45},"value":1},"minExtent":26.9,"maxExtent":26.9}}}},
    {"data":{"name":"lines"},"transform":[{"filter":"datum.g==='XAF1'"}],"mark":{"type":"line","clip":true,"strokeWidth":1.9},
     "encoding":{"x":{"field":"x","type":"quantitative","title":"Genetic association with exposure"},"y":{"field":"y","type":"quantitative","title":null},"color":{"field":"m","type":"nominal","title":"Method","scale":{"domain":["IVW","MR-Egger","Simple median","Weighted median"],"range":["#F8766D","#7CAE00","#00BFC4","#C77CFF"]}}}}
   ]}
 ],"align":"none","spacing":1}
],"columns":1,"align":"none","spacing":13},
{"concat":[
 {"width":1,"height":1,"data":{"values":[]},"mark":"point"},
 {"width":204,"height":205,"title":{"text":"SAMD9L","anchor":"middle","frame":"group","dx":12,"offset":2.3},
 "layer":[
  {"data":{"values":[{}]},"mark":{"type":"rule","color":"#F4A3A3","strokeDash":[3,2],"strokeWidth":0.9},"encoding":{"x":{"datum":0,"type":"quantitative"}}},
  {"data":{"values":[{}]},"mark":{"type":"rule","color":"#F4A3A3","strokeDash":[3,2],"strokeWidth":0.9},"encoding":{"y":{"datum":0,"type":"quantitative"}}},
  {"data":{"name":"pts"},"transform":[{"filter":"datum.g==='SAMD9L'"}],"mark":{"type":"circle","size":18,"color":"#000","opacity":1},
   "encoding":{"x":{"field":"x","type":"quantitative","title":"Genetic association with exposure","scale":{"domain":[-0.635,2.335],"nice":false,"zero":false},"axis":{"values":[0,0.5,1,1.5,2],"format":"d","labelOverlap":false,"labelFlush":false,"labelOpacity":{"condition":{"test":"datum.value % 1 !== 0","value":0},"value":1},"tickOpacity":{"condition":{"test":"datum.value % 1 !== 0","value":0},"value":1},"gridOpacity":{"condition":{"test":"datum.value % 1 !== 0","value":0.45},"value":1},"minExtent":15,"maxExtent":15,"titlePadding":15}},
               "y":{"field":"y","type":"quantitative","title":"Genetic association with outcome","scale":{"domain":[-0.30,2.53],"nice":false,"zero":false},"axis":{"values":[0,0.25,0.5,0.75,1,1.25,1.5,1.75,2,2.25,2.5],"format":".1f","labelOverlap":false,"labelOpacity":{"condition":{"test":"datum.value % 0.5 !== 0","value":0},"value":1},"tickOpacity":{"condition":{"test":"datum.value % 0.5 !== 0","value":0},"value":1},"gridOpacity":{"condition":{"test":"datum.value % 0.5 !== 0","value":0.45},"value":1},"titleY":100,"minExtent":46,"maxExtent":46}}}},
  {"data":{"name":"lines"},"transform":[{"filter":"datum.g==='SAMD9L'"}],"mark":{"type":"line","clip":true,"strokeWidth":1.9},
   "encoding":{"x":{"field":"x","type":"quantitative","title":"Genetic association with exposure"},"y":{"field":"y","type":"quantitative","title":"Genetic association with outcome"},"color":{"field":"m","type":"nominal","title":"Method","scale":{"domain":["IVW","MR-Egger","Simple median","Weighted median"],"range":["#F8766D","#7CAE00","#00BFC4","#C77CFF"]}}}}
 ]}
],"align":"none","spacing":1}
],
"columns":1,"align":"none","spacing":-17,
"config":{
 "view":{"stroke":null},
 "font":"Liberation Sans",
 "axis":{"domain":false,"ticks":true,"tickSize":3,"tickColor":"#8a8a8a","tickWidth":1,"labelFont":"Liberation Sans","labelFontSize":9.5,"labelColor":"#5a5a5a","labelPadding":2,"labelOverlap":false,"grid":true,"gridColor":"#cdcdcd","gridDash":[1.5,2.5],"gridWidth":1,"titleFontWeight":"normal"},
 "axisY":{"titleFont":"Liberation Sans","titleFontSize":13,"titleColor":"#222222","titlePadding":3},
 "axisX":{"titleFont":"Lato","titleFontSize":13.5,"titleColor":"#333333"},
 "title":{"font":"Lato","fontSize":13.5,"fontWeight":"normal","color":"#1a1a1a"},
 "legend":{"orient":"none","legendX":330,"legendY":839,"symbolType":"M-1,1L1,-1","symbolSize":225,"symbolStrokeWidth":2,"clipHeight":16,"labelFont":"Liberation Sans","labelFontSize":9,"labelColor":"#333333","titleFont":"Liberation Sans","titleFontSize":11,"titleFontWeight":"normal","titleColor":"#222222","titlePadding":4,"rowPadding":0,"labelOffset":6,"padding":0}
}
}
